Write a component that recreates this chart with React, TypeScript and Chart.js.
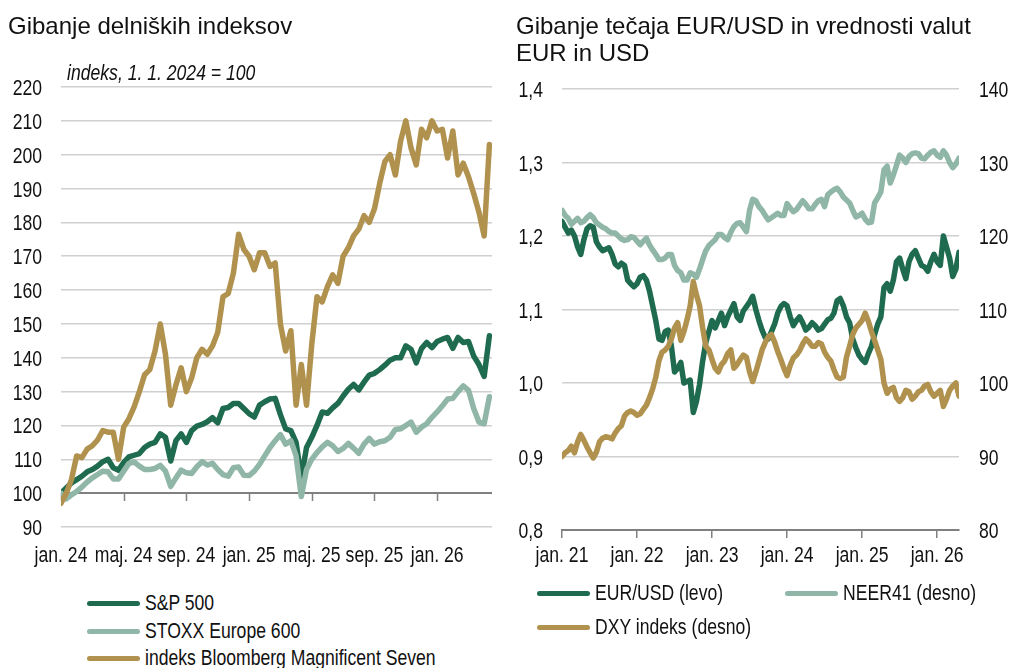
import React, { useEffect, useRef } from "react";
import { Chart, registerables } from "chart.js";

Chart.register(...registerables);

const SANS = "'Liberation Sans', Arial, Helvetica, sans-serif";
const SQUEEZE = 0.8; // reference labels use a narrow face
const LABEL_SIZE = 22;

const DARK = "#1f6b4f";
const LIGHT = "#8fb6a7";
const GOLD = "#b0924e";
const GRID = "#d0d0d0";
const AXIS = "#808080";
const TEXT = "#111111";

// ---------- Left panel: stock indices (x = months since 1 Jan 2024, ~10-day steps) ----------
const stockStep = 1 / 3;
const stockMonths = Array.from({ length: 83 }, (_, i) => i * stockStep);

const sp500 = [
  100, 101.5, 103, 104, 105, 106.3, 107, 108, 109.3, 110,
  107.5, 106.8, 109, 110.7, 111.2, 111.7, 113.5, 114.5, 115, 117.5,
  116.5, 109.5, 115.5, 117.5, 115, 118.5, 119.8, 120.3, 121.1, 122.3,
  120.8, 125, 125.3, 126.5, 126.5, 125, 123.5, 122.5, 126, 127,
  127.8, 128, 123.2, 119, 118.5, 115, 104.5, 113.5, 116.5, 120,
  124, 123.6, 125.2, 126.5, 128.7, 130.7, 132.1, 130.5, 132.8, 134.9,
  135.4, 136.5, 137.8, 139.3, 140, 140, 143.5, 142.5, 138.5, 142.7,
  144.5, 143, 144.8, 145.5, 146, 142.8, 146, 144.5, 144.8, 140.5,
  138, 134.5, 146.5,
];

const stoxx600 = [
  100, 98.3, 99.5, 100.5, 101.8, 103.3, 104.5, 105.5, 106.5, 106.3,
  104.2, 104.2, 106.5, 108.8, 109.2, 108, 107, 107, 107.3, 108.2,
  106.5, 102, 104.5, 106.8, 106, 105.8, 107.8, 109.3, 108.3, 108.8,
  107, 105.5, 105, 107.5, 107.7, 105.3, 105.2, 106.5, 108.5, 111,
  113.5, 115.5, 117.3, 114.5, 115.5, 111, 99, 107, 110, 112,
  113.7, 115, 114, 112.3, 113.2, 114.7, 113.3, 111.8, 114.5, 116.2,
  114.5, 115.2, 115.5, 116.5, 118.8, 119, 120, 121, 118, 119.5,
  120.5, 122.4, 124, 125.8, 127.8, 128, 130, 131.7, 130.4, 125,
  121, 120.5, 128.5,
];

const mag7 = [
  97, 100, 104, 111, 110.5, 113, 114, 115.7, 118.5, 118,
  118, 110, 119.5, 122, 125.5, 130, 135, 136.5, 142, 150,
  141, 126, 132, 137, 130, 134, 140, 142.5, 141, 143.5,
  147.5, 158, 159, 165, 176.5, 172, 170, 166, 171, 171,
  167, 168, 150, 142, 148, 126, 138, 126, 144, 158,
  156.5, 161, 164.5, 162, 170, 172.5, 176, 178, 182, 180,
  184, 191.5, 198, 200, 194, 204, 210, 202, 197, 207.5,
  205, 210, 207, 207.5, 199, 207, 194, 197.5, 193.5, 188.5,
  183, 176, 203,
];

const stockYTicks = [90, 100, 110, 120, 130, 140, 150, 160, 170, 180, 190, 200, 210, 220];
const stockTickMonths = [0, 4, 8, 12, 16, 20, 24];
const stockTickLabels = ["jan. 24", "maj. 24", "sep. 24", "jan. 25", "maj. 25", "sep. 25", "jan. 26"];

// ---------- Right panel: FX (x = months since 1 Jan 2021, half-month steps) ----------
const fxStep = 0.5;
const fxMonths = Array.from({ length: 128 }, (_, i) => i * fxStep);

const eurusd = [
  1.220, 1.212, 1.204, 1.208, 1.200, 1.185, 1.175, 1.195, 1.210, 1.214,
  1.212, 1.192, 1.185, 1.180, 1.182, 1.184, 1.175, 1.162, 1.158, 1.163,
  1.160, 1.140, 1.135, 1.131, 1.135, 1.144, 1.146, 1.140, 1.125, 1.105,
  1.085, 1.060, 1.058, 1.070, 1.072, 1.050, 1.015, 1.020, 1.028, 1.000,
  1.002, 1.004, 0.960, 0.975, 0.998, 1.030, 1.055, 1.070, 1.085, 1.075,
  1.085, 1.095, 1.078, 1.090, 1.099, 1.108, 1.090, 1.085, 1.098, 1.104,
  1.110, 1.118, 1.100, 1.085, 1.072, 1.062, 1.060, 1.070, 1.080, 1.095,
  1.104, 1.108, 1.105, 1.090, 1.078, 1.085, 1.090, 1.082, 1.072, 1.076,
  1.082, 1.078, 1.072, 1.074, 1.080, 1.086, 1.088, 1.095, 1.112, 1.115,
  1.105, 1.090, 1.082, 1.060, 1.048, 1.038, 1.032, 1.028, 1.040, 1.050,
  1.066, 1.080, 1.090, 1.130, 1.135, 1.125, 1.140, 1.165, 1.170, 1.155,
  1.142, 1.165, 1.175, 1.180, 1.170, 1.160, 1.158, 1.152, 1.165, 1.175,
  1.165, 1.160, 1.200, 1.185, 1.170, 1.145, 1.155, 1.178,
];

const neer41 = [
  123.5, 122.8, 122.4, 121.6, 122.0, 122.4, 121.8, 122.0, 122.5, 122.9,
  122.5, 121.8, 121.5, 121.2, 121.0, 120.6, 120.4, 120.4, 120.0, 119.6,
  119.4, 119.5, 119.9, 119.8, 119.3, 118.8, 119.3, 119.7, 118.8, 118.1,
  117.5, 116.8, 116.8, 117.0, 117.5, 117.5, 116.0, 115.3, 115.0, 114.0,
  114.0, 115.0, 114.8, 114.4, 115.5, 116.8, 118.0, 118.7, 119.1, 119.5,
  120.2, 120.2, 119.8, 119.5, 120.5, 121.3, 121.7, 121.8, 121.2, 120.6,
  123.5, 125.0, 124.8, 124.0, 123.5, 122.8, 122.2, 122.5, 122.8, 123.1,
  122.8, 122.8, 124.4, 123.8, 123.3, 123.6, 124.2, 124.8, 124.3, 123.7,
  123.7, 124.3, 124.8, 125.0, 124.0, 125.6, 126.0, 126.3, 126.5, 126.0,
  125.3, 124.9, 124.5, 123.5, 122.6, 122.8, 123.1, 122.3, 121.8, 121.9,
  124.5, 125.2, 126.0, 129.0, 129.5, 127.2, 128.3, 129.6, 131.0, 130.6,
  130.0, 130.8, 131.2, 131.3, 131.2, 130.6, 130.5, 131.0, 131.4, 131.6,
  131.0, 130.7, 131.6, 131.0, 130.0, 129.3, 129.8, 130.6,
];

const dxy = [
  90.0, 90.5, 90.8, 91.4, 90.5, 92.0, 93.0, 92.2, 91.3, 90.5,
  89.8, 90.6, 92.0, 92.5, 92.7, 92.6, 92.4, 93.2, 93.8, 94.2,
  95.5, 96.0, 96.2, 96.0, 95.6, 95.8, 96.4, 97.0, 98.0, 99.2,
  100.8, 103.0, 104.2, 104.5, 105.0, 106.0, 107.5, 108.2, 105.8, 107.0,
  108.6, 110.5, 113.8, 112.0, 110.5, 107.5, 105.0, 104.5, 103.2, 102.0,
  101.5, 102.5, 103.0, 104.0, 104.5, 102.0, 102.5, 103.2, 103.8, 103.5,
  101.5, 100.2, 101.5, 103.0, 104.5, 105.5, 106.3, 106.6, 105.6, 104.3,
  103.2, 102.0, 101.0, 102.4, 103.4, 103.8, 104.4, 105.3, 106.0, 105.6,
  105.0, 105.0, 105.5, 105.3, 104.2, 103.5, 103.0, 101.8, 100.8, 100.6,
  100.8, 103.5, 105.0, 106.6, 107.5, 108.0, 108.5, 109.5, 108.4, 107.0,
  105.8, 104.5, 103.2, 100.0, 98.6, 99.2, 99.4, 98.0, 97.5, 98.0,
  99.0, 98.8, 97.8, 98.2, 98.8, 99.0, 99.6, 99.8, 98.8, 98.2,
  98.6, 99.0, 96.8, 97.8, 99.0, 99.6, 100.0, 98.2,
];

const fxLeftTicks = [0.8, 0.9, 1.0, 1.1, 1.2, 1.3, 1.4];
const fxRightTicks = [80, 90, 100, 110, 120, 130, 140];
const fxTickMonths = [0, 12, 24, 36, 48, 60];
const fxTickLabels = ["jan. 21", "jan. 22", "jan. 23", "jan. 24", "jan. 25", "jan. 26"];

// ---------- helpers ----------
const toPoints = (xs: number[], ys: number[]) => xs.map((x, i) => ({ x, y: ys[i] }));

const lineDs = (label: string, xs: number[], ys: number[], color: string, axis?: string) => ({
  label,
  data: toPoints(xs, ys),
  borderColor: color,
  backgroundColor: color,
  borderWidth: 5.5,
  borderJoinStyle: "round" as const,
  borderCapStyle: "round" as const,
  pointRadius: 0,
  tension: 0,
  fill: false,
  ...(axis ? { yAxisID: axis } : {}),
});

function narrowText(ctx: CanvasRenderingContext2D, text: string, x: number, y: number, align: CanvasTextAlign) {
  ctx.save();
  ctx.font = `${LABEL_SIZE}px ${SANS}`;
  ctx.fillStyle = TEXT;
  ctx.textBaseline = "alphabetic";
  ctx.textAlign = align;
  ctx.translate(x, y);
  ctx.scale(SQUEEZE, 1);
  ctx.fillText(text, 0, 0);
  ctx.restore();
}

const X_LABEL_BASELINE = 562;

const stockAxisPlugin = {
  id: "stockAxisAt100",
  beforeDatasetsDraw(chart: any) {
    const { ctx, chartArea } = chart;
    const x = chart.scales.x;
    const y = chart.scales.y;
    const py = Math.round(y.getPixelForValue(100));
    ctx.save();
    ctx.strokeStyle = AXIS;
    ctx.lineWidth = 2;
    ctx.beginPath();
    ctx.moveTo(chartArea.left, py);
    ctx.lineTo(chartArea.right, py);
    ctx.stroke();
    ctx.lineWidth = 1.5;
    stockTickMonths.forEach((m) => {
      const px = Math.round(x.getPixelForValue(m)) + 0.5;
      ctx.beginPath();
      ctx.moveTo(px, py);
      ctx.lineTo(px, py + 8);
      ctx.stroke();
    });
    ctx.restore();
  },
  afterDraw(chart: any) {
    const { ctx } = chart;
    const x = chart.scales.x;
    const y = chart.scales.y;
    stockYTicks.forEach((v) => narrowText(ctx, String(v), 42, y.getPixelForValue(v) + 8, "right"));
    stockTickMonths.forEach((m, i) =>
      narrowText(ctx, stockTickLabels[i], x.getPixelForValue(m), X_LABEL_BASELINE, "center")
    );
  },
};

const fxLabelsPlugin = {
  id: "fxLabels",
  afterDraw(chart: any) {
    const { ctx, chartArea } = chart;
    const x = chart.scales.x;
    const y = chart.scales.y;
    const y2 = chart.scales.y2;
    fxLeftTicks.forEach((v) =>
      narrowText(ctx, v.toFixed(1).replace(".", ","), chartArea.left - 19, y.getPixelForValue(v) + 8, "right")
    );
    fxRightTicks.forEach((v) =>
      narrowText(ctx, String(v), chartArea.right + 20, y2.getPixelForValue(v) + 8, "left")
    );
    fxTickMonths.forEach((m, i) =>
      narrowText(ctx, fxTickLabels[i], x.getPixelForValue(m), X_LABEL_BASELINE, "center")
    );
  },
};

function StockChart() {
  const ref = useRef<HTMLCanvasElement | null>(null);
  useEffect(() => {
    if (!ref.current) return;
    const chart = new Chart(ref.current, {
      type: "line",
      data: {
        datasets: [
          lineDs("indeks Bloomberg Magnificent Seven", stockMonths, mag7, GOLD),
          lineDs("STOXX Europe 600", stockMonths, stoxx600, LIGHT),
          lineDs("S&P 500", stockMonths, sp500, DARK),
        ],
      },
      options: {
        animation: false,
        responsive: false,
        maintainAspectRatio: false,
        layout: { padding: { top: 87, right: 13, bottom: 13, left: 0 } },
        plugins: { legend: { display: false }, tooltip: { enabled: false } },
        scales: {
          x: {
            type: "linear",
            min: 0,
            max: 27.5,
            grid: { display: false },
            border: { display: false },
            afterBuildTicks: (s: any) => {
              s.ticks = stockTickMonths.map((v) => ({ value: v }));
            },
            afterFit: (s: any) => {
              s.height = 40;
            },
            ticks: { display: false },
          },
          y: {
            min: 90,
            max: 220,
            afterFit: (s: any) => {
              s.width = 61;
            },
            grid: {
              color: (c: any) => (c.tick && c.tick.value === 100 ? "rgba(0,0,0,0)" : GRID),
              lineWidth: 1.5,
              drawTicks: false,
            },
            border: { display: false },
            ticks: { display: false, stepSize: 10 },
          },
        },
      },
      plugins: [stockAxisPlugin],
    } as any);
    return () => chart.destroy();
  }, []);
  return (
    <canvas
      ref={ref}
      width={505}
      height={580}
      style={{ position: "absolute", left: 0, top: 0, width: 505, height: 580 }}
    />
  );
}

function FxChart() {
  const ref = useRef<HTMLCanvasElement | null>(null);
  useEffect(() => {
    if (!ref.current) return;
    const chart = new Chart(ref.current, {
      type: "line",
      data: {
        datasets: [
          lineDs("DXY indeks (desno)", fxMonths, dxy, GOLD, "y2"),
          lineDs("NEER41 (desno)", fxMonths, neer41, LIGHT, "y2"),
          lineDs("EUR/USD (levo)", fxMonths, eurusd, DARK, "y"),
        ],
      },
      options: {
        animation: false,
        responsive: false,
        maintainAspectRatio: false,
        layout: { padding: { top: 89, right: 0, bottom: 10, left: 0 } },
        plugins: { legend: { display: false }, tooltip: { enabled: false } },
        scales: {
          x: {
            type: "linear",
            min: 0,
            max: 63.5,
            grid: {
              display: true,
              drawOnChartArea: false,
              drawTicks: true,
              tickLength: 8,
              color: AXIS,
              lineWidth: 1.5,
            },
            border: { display: true, color: AXIS, width: 2 },
            afterBuildTicks: (s: any) => {
              s.ticks = fxTickMonths.map((v) => ({ value: v }));
            },
            afterFit: (s: any) => {
              s.height = 40;
            },
            ticks: { display: false },
          },
          y: {
            position: "left",
            min: 0.8,
            max: 1.4,
            afterFit: (s: any) => {
              s.width = 62;
            },
            grid: { color: GRID, lineWidth: 1.5, drawTicks: false },
            border: { display: false },
            ticks: { display: false, stepSize: 0.1 },
          },
          y2: {
            position: "right",
            min: 80,
            max: 140,
            afterFit: (s: any) => {
              s.width = 51;
            },
            grid: { display: false, drawTicks: false },
            border: { display: false },
            ticks: { display: false, stepSize: 10 },
          },
        },
      },
      plugins: [fxLabelsPlugin],
    } as any);
    return () => chart.destroy();
  }, []);
  return (
    <canvas
      ref={ref}
      width={510}
      height={580}
      style={{ position: "absolute", left: 500, top: 0, width: 510, height: 580 }}
    />
  );
}

const narrowSpan: React.CSSProperties = {
  display: "inline-block",
  transform: `scaleX(${SQUEEZE})`,
  transformOrigin: "left center",
  whiteSpace: "nowrap",
};

function LegendItem(props: { x: number; y: number; color: string; label: string }) {
  const { x, y, color, label } = props;
  return (
    <div
      style={{
        position: "absolute",
        left: x,
        top: y - 14,
        height: 28,
        display: "flex",
        alignItems: "center",
        whiteSpace: "nowrap",
        fontFamily: SANS,
        fontSize: LABEL_SIZE,
        color: TEXT,
      }}
    >
      <span
        style={{
          display: "inline-block",
          width: 53,
          height: 5,
          borderRadius: 3,
          background: color,
          marginRight: 5,
          flex: "none",
        }}
      />
      <span style={narrowSpan}>{label}</span>
    </div>
  );
}

export default function App() {
  useEffect(() => {
    document.body.style.margin = "0";
  }, []);
  const titleStyle: React.CSSProperties = {
    position: "absolute",
    fontFamily: SANS,
    fontSize: 24,
    lineHeight: "27px",
    color: TEXT,
    whiteSpace: "nowrap",
  };
  return (
    <div
      style={{
        position: "absolute",
        left: 0,
        top: 0,
        width: 1010,
        height: 668,
        overflow: "hidden",
        background: "#ffffff",
      }}
    >
      <StockChart />
      <FxChart />
      <div style={{ ...titleStyle, left: 8, top: 12 }}>Gibanje delniških indeksov</div>
      <div style={{ ...titleStyle, left: 516, top: 12 }}>
        Gibanje tečaja EUR/USD in vrednosti valut
        <br />
        EUR in USD
      </div>
      <div
        style={{
          position: "absolute",
          left: 67,
          top: 61,
          fontFamily: SANS,
          fontStyle: "italic",
          fontSize: LABEL_SIZE,
          lineHeight: "24px",
          color: TEXT,
        }}
      >
        <span style={narrowSpan}>indeks, 1. 1. 2024 = 100</span>
      </div>
      <LegendItem x={87} y={603} color={DARK} label="S&P 500" />
      <LegendItem x={87} y={631} color={LIGHT} label="STOXX Europe 600" />
      <LegendItem x={87} y={658} color={GOLD} label="indeks Bloomberg Magnificent Seven" />
      <LegendItem x={537} y={593} color={DARK} label="EUR/USD (levo)" />
      <LegendItem x={785} y={593} color={LIGHT} label="NEER41 (desno)" />
      <LegendItem x={537} y={627} color={GOLD} label="DXY indeks (desno)" />
    </div>
  );
}
